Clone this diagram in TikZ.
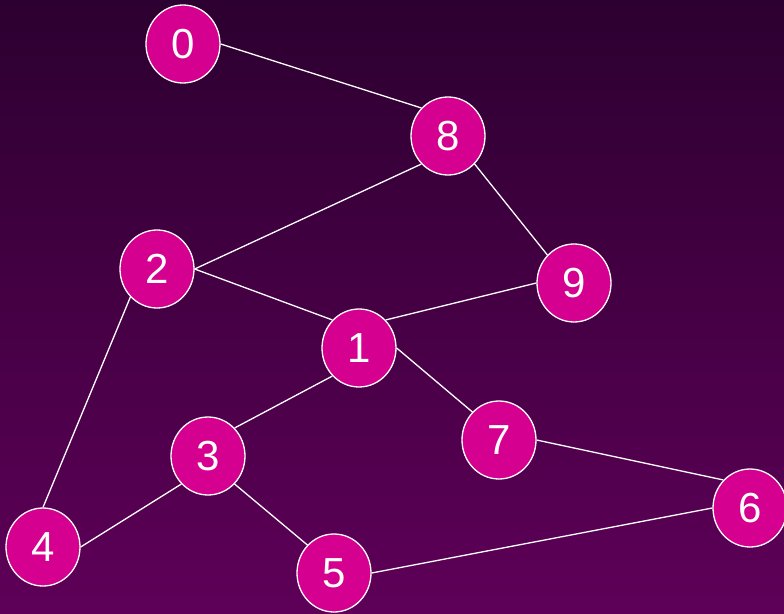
\documentclass[tikz,border=0pt]{standalone}
\usepackage{fontspec}
\setmainfont{Liberation Sans}
\usetikzlibrary{shapes.geometric}
\definecolor{bgtop}{HTML}{2C0030}
\definecolor{bgbot}{HTML}{5E0058}
\definecolor{nodefill}{HTML}{D5008F}
\begin{document}
\begin{tikzpicture}[x=1pt,y=-1pt,
  vert/.style={ellipse,draw=white,line width=1.3pt,fill=nodefill,minimum width=74pt,minimum height=78pt,inner sep=0pt,text=white,font=\fontsize{42}{42}\selectfont},
  edge/.style={draw=white,line width=1.3pt}]
\shade[top color=bgtop,bottom color=bgbot] (0,0) rectangle (784,613);
\useasboundingbox (0,0) rectangle (784,613);
\node[vert] (n0) at (183,44) {0};
\node[vert] (n8) at (448,136) {8};
\node[vert] (n2) at (157,269) {2};
\node[vert] (n9) at (574,283) {9};
\node[vert] (n1) at (359,348) {1};
\node[vert] (n7) at (499,440) {7};
\node[vert] (n3) at (208,456) {3};
\node[vert] (n6) at (750,508) {6};
\node[vert] (n4) at (43,547) {4};
\node[vert] (n5) at (334,573) {5};
\draw[edge] (n0.east) -- (n8.north west);
\draw[edge] (n8.south west) -- (n2.east);
\draw[edge] (n8.south east) -- (n9.north west);
\draw[edge] (n2.east) -- (n1.north west);
\draw[edge] (n9.west) -- (n1.north east);
\draw[edge] (n1.east) -- (n7.north west);
\draw[edge] (n1.south west) -- (n3.north east);
\draw[edge] (n2.south west) -- (n4.north);
\draw[edge] (n3.south west) -- (n4.east);
\draw[edge] (n3.south east) -- (n5.north west);
\draw[edge] (n7.east) -- (n6.north west);
\draw[edge] (n5.east) -- (n6.west);
\end{tikzpicture}
\end{document}
